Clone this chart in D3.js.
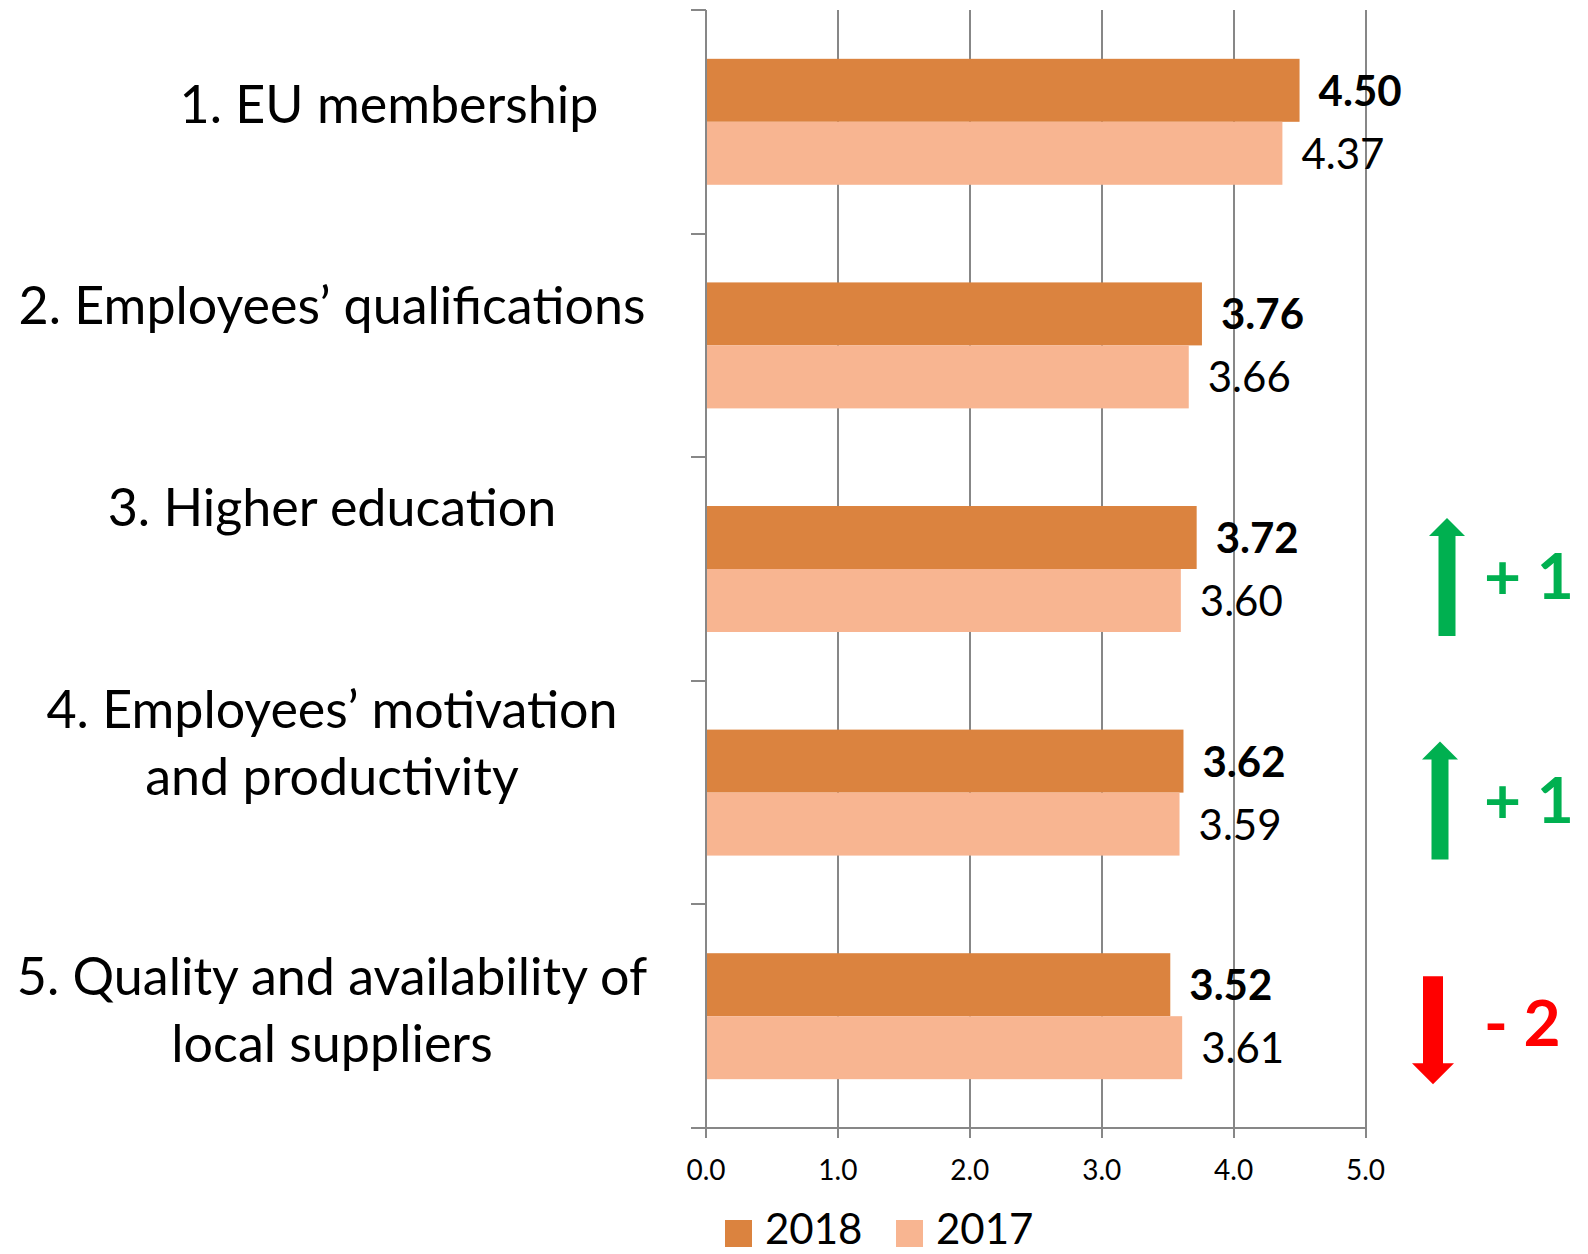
<!DOCTYPE html>
<html>
	<head>
		<meta charset="utf-8" />
		<script src="https://cdn.jsdelivr.net/npm/d3@7"></script>
		<style type="text/css">

html, body {
	margin: 0;
	padding: 0;
	background: #ffffff;
}

#chart text {
	font-family: Lato, "Open Sans", sans-serif;
	fill: #000000;
}

.grid line, .axis line, .axis path {
	stroke: #878787;
	stroke-width: 2px;
	shape-rendering: crispEdges;
}
		</style>
	</head>

	<body>
		<div id="chart"></div>
		<script type="text/javascript">
// data
var categories = [
	['1. EU membership'],
	['2. Employees\u2019 qualifications'],
	['3. Higher education'],
	['4. Employees\u2019 motivation', 'and productivity'],
	['5. Quality and availability of', 'local suppliers']
];
var seriesNames = ['2018', '2017'];
var values2018 = [4.50, 3.76, 3.72, 3.62, 3.52];
var values2017 = [4.37, 3.66, 3.60, 3.59, 3.61];
var rankChange = [0, 0, 1, 1, -2];
var xTicks = [0, 1, 2, 3, 4, 5];

var colors = { '2018': '#db833f', '2017': '#f8b591' };
var green = '#00b050';
var red = '#ff0000';

var width = 1588, height = 1254;

// baseline of each label's first line, relative to the band centre
var labelShift = [1, -21, -43, -65, -21];
var labelCenter = [389, 332, 332, 332, 332];
var arrowCenter = [0, 0, 1447, 1440, 1433];
var changeTextX = 1484;

var svg = d3.select('#chart').append('svg')
	.attr('width', width)
	.attr('height', height);

var x = d3.scaleLinear().domain([0, 5]).range([706, 1365.5]);

var y0 = d3.scaleBand()
	.domain(d3.range(categories.length))
	.range([10, 1128]);

var y1 = d3.scaleBand()
	.domain(seriesNames)
	.range([0, y0.bandwidth()])
	.paddingOuter(0.775);

// vertical grid
svg.append('g').attr('class', 'grid')
	.selectAll('line').data(xTicks.slice(1)).enter().append('line')
	.attr('x1', function(d) { return x(d); })
	.attr('x2', function(d) { return x(d); })
	.attr('y1', y0.range()[0])
	.attr('y2', y0.range()[1]);

// bars
var rows = categories.map(function(c, i) {
	return [
		{ i: i, s: '2018', v: values2018[i] },
		{ i: i, s: '2017', v: values2017[i] }
	];
});

var groups = svg.selectAll('g.row').data(rows).enter().append('g')
	.attr('class', 'row')
	.attr('transform', function(d, i) { return 'translate(0,' + y0(i) + ')'; });

groups.selectAll('rect').data(function(d) { return d; }).enter().append('rect')
	.attr('x', x(0))
	.attr('y', function(d) { return y1(d.s); })
	.attr('width', function(d) { return x(d.v) - x(0); })
	.attr('height', y1.bandwidth())
	.attr('fill', function(d) { return colors[d.s]; });

groups.selectAll('text.value').data(function(d) { return d; }).enter().append('text')
	.attr('class', 'value')
	.attr('x', function(d) { return x(d.v) + 19; })
	.attr('y', function(d) { return y1(d.s) + y1.bandwidth() / 2; })
	.attr('dy', '0.37em')
	.style('font-size', '42px')
	.style('font-weight', function(d) { return d.s === '2018' ? 'bold' : 'normal'; })
	.text(function(d) { return d.v.toFixed(2); });

// left axis: line plus outward ticks at band edges
var yAxis = svg.append('g').attr('class', 'axis');
yAxis.append('line')
	.attr('x1', x(0)).attr('x2', x(0))
	.attr('y1', y0.range()[0]).attr('y2', y0.range()[1]);
yAxis.selectAll('line.tick').data(d3.range(categories.length)).enter().append('line')
	.attr('class', 'tick')
	.attr('x1', x(0) - 15).attr('x2', x(0))
	.attr('y1', function(d) { return y0(d); })
	.attr('y2', function(d) { return y0(d); });

// bottom axis
var xAxis = svg.append('g').attr('class', 'axis')
	.attr('transform', 'translate(0,' + y0.range()[1] + ')');
xAxis.append('line')
	.attr('x1', x(0) - 15).attr('x2', x(5))
	.attr('y1', 0).attr('y2', 0);
xAxis.selectAll('line.tick').data(xTicks).enter().append('line')
	.attr('class', 'tick')
	.attr('x1', function(d) { return x(d); })
	.attr('x2', function(d) { return x(d); })
	.attr('y1', 0).attr('y2', 10);
xAxis.selectAll('text').data(xTicks).enter().append('text')
	.attr('x', function(d) { return x(d); })
	.attr('y', 52)
	.attr('text-anchor', 'middle')
	.style('font-size', '28px')
	.text(function(d) { return d.toFixed(1); });

// category labels
var labels = svg.selectAll('text.cat').data(categories).enter().append('text')
	.attr('class', 'cat')
	.attr('text-anchor', 'middle')
	.style('font-size', '52px')
	.attr('transform', function(d, i) {
		return 'translate(' + labelCenter[i] + ',' + (y0(i) + y0.bandwidth() / 2 + labelShift[i]) + ')';
	});
labels.selectAll('tspan').data(function(d) { return d; }).enter().append('tspan')
	.attr('x', 0)
	.attr('y', function(d, j) { return j * 67; })
	.text(function(d) { return d; });

// rank change arrows
var changes = svg.selectAll('g.change')
	.data(rankChange.map(function(r, i) { return { r: r, i: i }; }).filter(function(d) { return d.r !== 0; }))
	.enter().append('g')
	.attr('class', 'change')
	.attr('transform', function(d) {
		return 'translate(' + arrowCenter[d.i] + ',' + (y0(d.i) + y0.bandwidth() / 2) + ')';
	});

changes.append('path')
	.attr('fill', function(d) { return d.r > 0 ? green : red; })
	.attr('d', function(d) {
		if (d.r > 0) {
			return d3.line()([[0, -51], [18, -33], [8.5, -33], [8.5, 67], [-8.5, 67], [-8.5, -33], [-18, -33]]) + 'Z';
		}
		return d3.line()([[0, 68], [21, 47], [10, 47], [10, -40], [-10, -40], [-10, 47], [-21, 47]]) + 'Z';
	});

changes.append('text')
	.attr('x', function(d) { return changeTextX - arrowCenter[d.i]; })
	.attr('y', 30)
	.style('font-size', '64px')
	.style('font-weight', 'bold')
	.style('fill', function(d) { return d.r > 0 ? green : red; })
	.text(function(d) { return d.r > 0 ? '+ ' + d.r : '- ' + Math.abs(d.r); });

// legend
var legend = svg.selectAll('g.legend').data(seriesNames).enter().append('g')
	.attr('class', 'legend')
	.attr('transform', function(d, i) { return 'translate(' + (725 + i * 171) + ',1220)'; });
legend.append('rect')
	.attr('width', 27).attr('height', 27)
	.attr('fill', function(d) { return colors[d]; });
legend.append('text')
	.attr('x', 40)
	.attr('y', 24)
	.style('font-size', '42px')
	.text(function(d) { return d; });
		</script>
	</body>
</html>
